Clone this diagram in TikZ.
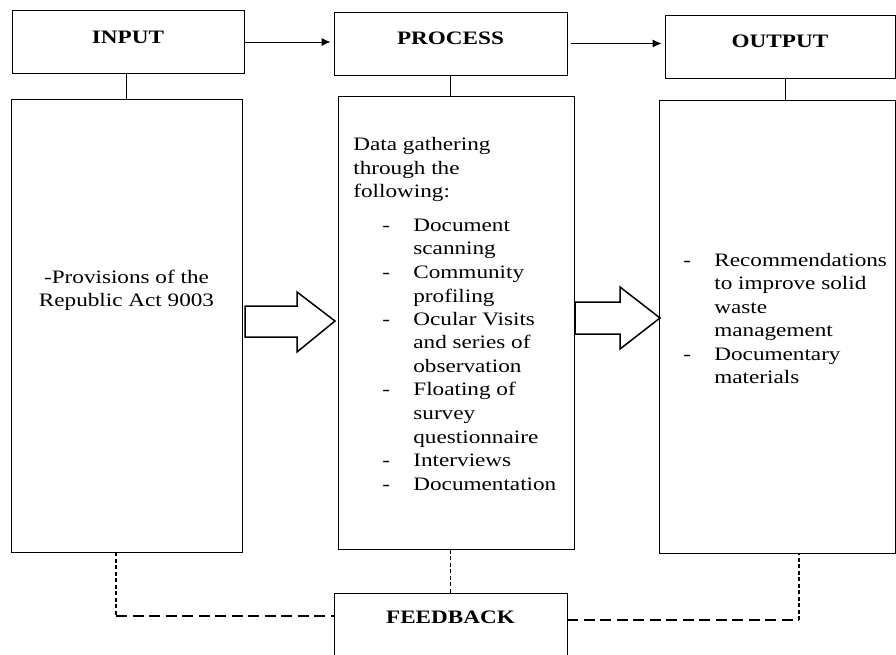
\documentclass[tikz,border=0pt]{standalone}
\usepackage{fontspec}
\setmainfont{Liberation Serif}[FakeStretch=1.22]
\usetikzlibrary{arrows.meta}

\begin{document}
\begin{tikzpicture}[x=1pt, y=-1pt, line width=0.8pt,
        font=\fontsize{19}{23.5}\selectfont,
        head/.style = {draw, minimum height=63pt, inner sep=0pt, font=\fontsize{19}{23.5}\selectfont\bfseries, text height=13pt, text depth=10.4pt},
        big/.style = {draw, minimum width=236pt, minimum height=453pt, inner sep=0pt},
        vdash/.style = {line width=2.2pt, dash pattern=on 4pt off 2.5pt},
        hdash/.style = {line width=2.2pt, dash pattern=on 11pt off 5.5pt},
        block/.style = {draw, line width=1.5pt, line join=miter}]

        \clip (0,0) rectangle (896,655);

        % headers
        \node[head, minimum width=232pt] (inhead) at (128,42) {INPUT};
        \node[head, minimum width=233pt] (prochead) at (450.5,43.5) {PROCESS};
        \node[head, minimum width=230pt] (outhead) at (780,46.5) {OUTPUT};

        % big boxes
        \node[big, minimum width=231pt] (inbox) at (126.5,325.5) {};
        \node[big] (procbox) at (456,323) {};
        \node[big] (outbox) at (777,326.5) {};

        % feedback
        \node[draw, minimum width=233pt, inner ysep=0pt, font=\fontsize{19}{23.5}\selectfont\bfseries, text height=30pt, text depth=50pt, anchor=base] (fb) at (450.5,623) {FEEDBACK};

        % texts
        \node[anchor=base, inner sep=0pt] (intext) at (126.5,283) {\begin{tabular}[t]{@{}c@{}}-Provisions of the\\Republic Act 9003\end{tabular}};
        \node[anchor=base west, inner sep=0pt] (proctext) at (353,151) {\begin{tabular}[t]{@{}p{29pt}@{}p{31pt}@{}l@{}}
                \multicolumn{3}{@{}l@{}}{Data gathering}\\
                \multicolumn{3}{@{}l@{}}{through the}\\
                \multicolumn{3}{@{}l@{}}{following:}\\[10pt]
                & - & Document\\
                & & scanning\\
                & - & Community\\
                & & profiling\\
                & - & Ocular Visits\\
                & & and series of\\
                & & observation\\
                & - & Floating of\\
                & & survey\\
                & & questionnaire\\
                & - & Interviews\\
                & - & Documentation
            \end{tabular}};
        \node[anchor=base west, inner sep=0pt] (outtext) at (683,266) {\begin{tabular}[t]{@{}p{31pt}@{}l@{}}
                - & Recommendations\\
                & to improve solid\\
                & waste\\
                & management\\
                - & Documentary\\
                & materials
            \end{tabular}};

        % top arrows and stems
        \draw[-{Latex[length=9pt,width=8pt]}] (inhead.east) -- ([xshift=-3pt]prochead.west |- inhead.east);
        \draw[-{Latex[length=9pt,width=8pt]}] ([xshift=4pt]prochead.east) -- ([xshift=-3pt]outhead.west |- prochead.east);
        \draw (inhead.south -| inbox.north) -- (inbox.north);
        \draw (prochead.south) -- (prochead.south |- procbox.north);
        \draw ([xshift=5pt]outhead.south) -- ([xshift=5pt]outhead.south |- outbox.north);

        % block arrows
        \draw[block] (245,306) -- (297,306) -- (297,292) -- (335,321) -- (297,352) -- (297,337) -- (245,337) -- cycle;
        \draw[block] (575,302) -- (620,302) -- (620,287) -- (660,318) -- (620,349) -- (620,334) -- (575,334) -- cycle;

        % feedback lines
        \coordinate (lc) at (116,616);
        \coordinate (rc) at (799,620);
        \draw[vdash] (lc |- inbox.south) -- (lc);
        \draw[hdash] (lc) -- (lc -| fb.west);
        \draw[vdash, line width=1.6pt] (fb.north) -- (fb.north |- procbox.south);
        \draw[hdash] (rc -| fb.east) -- (rc);
        \draw[vdash] (rc) -- (rc |- outbox.south);

    \end{tikzpicture}
\end{document}
